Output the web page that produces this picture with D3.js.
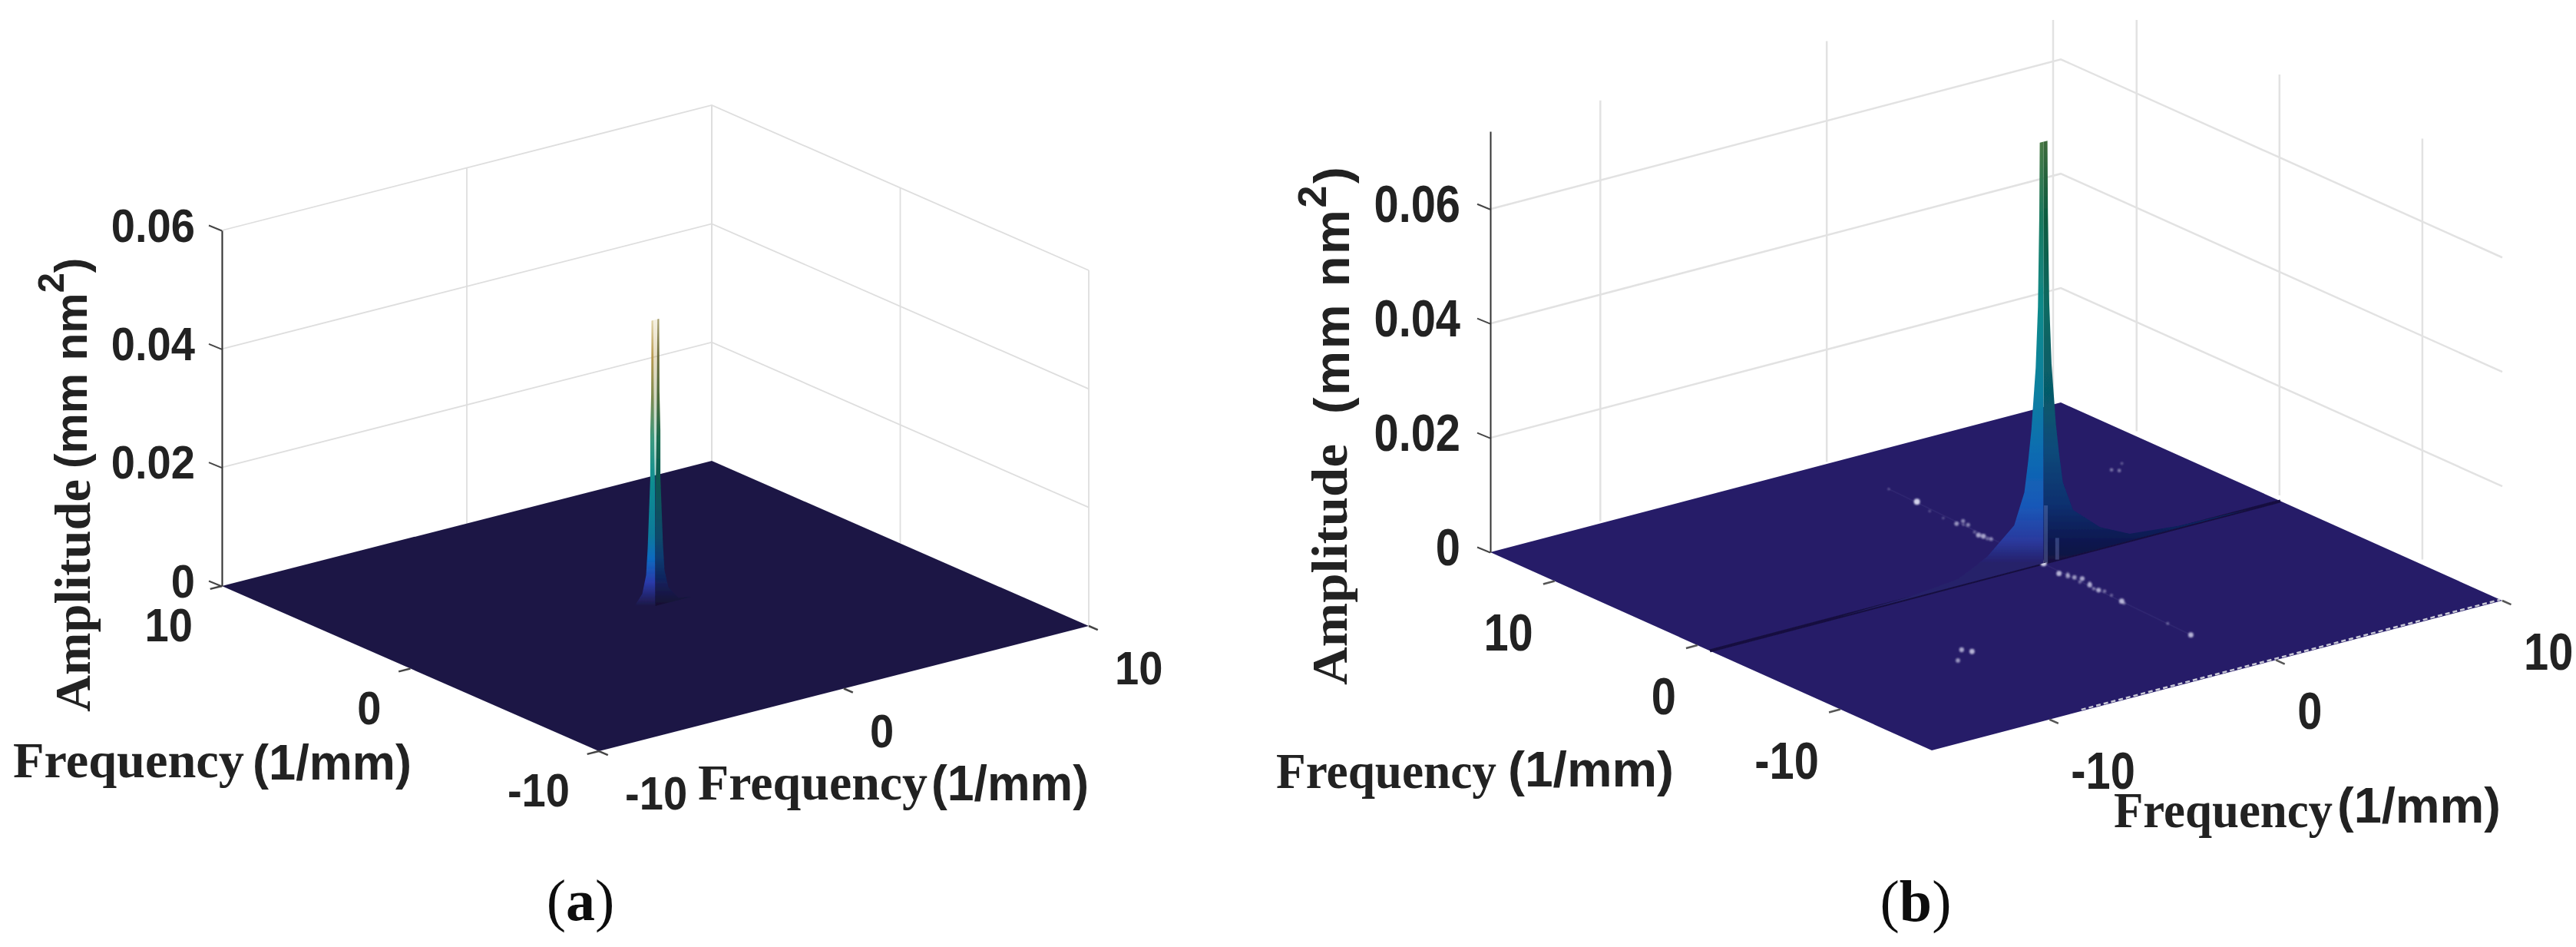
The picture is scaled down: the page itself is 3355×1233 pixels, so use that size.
<!DOCTYPE html>
<html>
<head>
<meta charset="utf-8">
<script src="https://cdnjs.cloudflare.com/ajax/libs/d3/7.8.5/d3.min.js"></script>
<style>
  html, body { margin: 0; padding: 0; background: #fff; }
  svg { display: block; }
</style>
</head>
<body>
<svg id="chart" width="3355" height="1233"></svg>
<script>
// axis ticks (frequency in 1/mm, amplitude in mm nm^2)
const freqTicks = [-10, 0, 10];
const zTicksA = [0, 0.02, 0.04, 0.06];
const zTicksB = [0, 0.02, 0.04, 0.06];
const zTickLabels = ["0", "0.02", "0.04", "0.06"];

// axis limits
const xDomainA = [-10, 10];
const yDomainA = [-10, 10];
const zDomainA = [0, 0.06];
const xDomainB = [-15.2, 10];
const yDomainB = [-16.4, 14.5];
const zDomainB = [0, 0.0736];

// peak profile of panel (a): amplitude vs half width along x, and the gap between the two tips
const peakAmpA = [0, 0.0004, 0.0026, 0.0056, 0.01, 0.0216, 0.0294, 0.0359, 0.0483];
const peakWidthA = [1.5, 0.94, 0.533, 0.376, 0.313, 0.207, 0.207, 0.17, 0.157];
const peakGapA = [0, 0, 0, 0, 0, 0.02, 0.05, 0.06, 0.085];

// peak profile of panel (b)
const peakAmpB = [0, 0.0003, 0.0012, 0.0037, 0.00796, 0.01326, 0.0186, 0.0239, 0.0345, 0.0451, 0.061, 0.0737];
const peakWidthB = [9, 6, 3.8, 2.5, 1.3, 0.85, 0.68, 0.54, 0.35, 0.25, 0.19, 0.17];
const peakGapB = [0, 0, 0, 0, 0, 0, 0, 0, 0, 0, 0, 0];
const peakPosB = [-0.46, -0.87];

// pale streaks at the foot of the peak in (b)
const streakX = [-0.36, 0.14];
const streakTop = [0.01, 0.0038];

// small side peaks scattered on the floor of (b)
const speckleX = [-0.17, -0.18, -0.43, -0.08, -0.18, -0.53, -0.47, -0.42, -0.46, -0.67, -0.58, -0.48, -0.34, -0.53, -0.6, -0.56, -0.64, -0.74, -0.81, -8.12, -7.94, -8.89, 7.23, 7.4, 7.92,
    -0.45, -0.62, -0.4, -0.65, -0.5, -0.7, -0.3, -0.45, -0.5, -0.45, -0.4];
const speckleY = [10.43, 8.44, 5.27, 5.37, 4.86, 3.58, 3.33, 2.87, -0.87, -2.28, -2.76, -3.06, -3.38, -4.21, -4.94, -5.78, -6.62, -10, -11.73, -7.27, -7.71, -8.23, 6.56, 6.29, 6.93,
    -2.54, -3.66, -4, -4.68, -5.2, -6.88, 5, 3.98, 3, 6.17, 7.2];
const speckleAmp = [0.2, 1, 0.6, 0.5, 0.5, 0.7, 0.7, 0.5, 1, 0.8, 0.6, 0.6, 0.7, 0.7, 0.7, 0.3, 0.8, 0.3, 0.8, 0.7, 0.8, 0.6, 0.4, 0.4, 0.25,
    0.35, 0.35, 0.35, 0.4, 0.4, 0.35, 0.25, 0.3, 0.35, 0.2, 0.2];

// colour of the surface by amplitude, left lit side and right dark side
const colorAmpA = [0, 0.004, 0.008, 0.012, 0.022, 0.028, 0.035, 0.042, 0.0483];
const colorLeftA = ["#1d1745", "#2a3aaa", "#0d6ac0", "#0a7a9a", "#129090", "#3a9a80", "#7a8a50", "#b89a50", "#e0d4aa"];
const colorRightA = ["#150f30", "#12205a", "#0a3a70", "#0a4a6a", "#0a5a50", "#1a6a50", "#4a6a3a", "#6a6a3a", "#a8a070"];
const colorAmpB = [0, 0.004, 0.01, 0.02, 0.03, 0.045, 0.06, 0.0737];
const colorLeftB = ["#26206a", "#2a3a9e", "#1858b8", "#0a6db0", "#0b80a0", "#0f8a8a", "#1a7a60", "#4a7a45"];
const colorRightB = ["#15103e", "#0a1850", "#082f6e", "#0a4a7a", "#065a68", "#0a6a62", "#0a5a40", "#3d6a3c"];

const sansBold = "'Liberation Sans', Arial, sans-serif";
const serifBold = "'Liberation Serif', 'Times New Roman', serif";
const svg = d3.select("#chart");
const defs = svg.append("defs");

// the reference is a soft scan, so everything gets a slight blur
defs.append("filter").attr("id", "soft")
    .attr("filterUnits", "userSpaceOnUse")
    .attr("x", 0).attr("y", 0).attr("width", 3355).attr("height", 1233)
    .append("feGaussianBlur").attr("stdDeviation", 0.7);
defs.append("filter").attr("id", "softer")
    .attr("filterUnits", "userSpaceOnUse")
    .attr("x", 0).attr("y", 0).attr("width", 3355).attr("height", 1233)
    .append("feGaussianBlur").attr("stdDeviation", 1.1);
const root = svg.append("g").attr("filter", "url(#soft)");

function addGradient(id, amps, colors, zScale) {
    const g = defs.append("linearGradient")
        .attr("id", id)
        .attr("gradientUnits", "userSpaceOnUse")
        .attr("x1", 0).attr("x2", 0)
        .attr("y1", zScale(amps[0]))
        .attr("y2", zScale(amps[amps.length - 1]));
    amps.forEach((a, i) => {
        g.append("stop")
            .attr("offset", (a - amps[0]) / (amps[amps.length - 1] - amps[0]))
            .attr("stop-color", colors[i]);
    });
}

function drawPanel(p) {
    const g = root.append("g");

    // parallel projection: every data axis adds its own screen offset
    const xToX = d3.scaleLinear().domain(p.xDomain).range([0, p.right[0] - p.front[0]]);
    const xToY = d3.scaleLinear().domain(p.xDomain).range([0, p.right[1] - p.front[1]]);
    const yToX = d3.scaleLinear().domain(p.yDomain).range([0, p.left[0] - p.front[0]]);
    const yToY = d3.scaleLinear().domain(p.yDomain).range([0, p.left[1] - p.front[1]]);
    const zOff = d3.scaleLinear().domain(p.zDomain).range([0, -p.zHeight]);
    function project(x, y, z) {
        return [p.front[0] + xToX(x) + yToX(y), p.front[1] + xToY(x) + yToY(y) + zOff(z || 0)];
    }
    const line = d3.line();
    const [xMin, xMax] = p.xDomain;
    const [yMin, yMax] = p.yDomain;
    const zMax = p.zDomain[1];

    // back walls
    defs.append("clipPath").attr("id", "clip" + p.id).append("rect")
        .attr("x", 0).attr("y", p.clipTop).attr("width", 3355).attr("height", 1233);
    const grid = g.append("g")
        .attr("clip-path", `url(#clip${p.id})`)
        .attr("fill", "none")
        .attr("stroke", p.gridColor)
        .attr("stroke-width", p.gridWidth);
    p.zTicks.filter(z => z > 0).forEach(z => {
        grid.append("path").attr("d", line([project(xMin, yMax, z), project(xMax, yMax, z), project(xMax, yMin, z)]));
    });
    freqTicks.forEach(t => {
        const a = project(t, yMax, 0), b = project(t, yMax, zMax);
        grid.append("path").attr("d", line([[a[0] + p.wallShift[0], a[1]], [b[0] + p.wallShift[0], b[1]]]));
        const c = project(xMax, t, 0), d = project(xMax, t, zMax);
        grid.append("path").attr("d", line([[c[0] + p.wallShift[1], c[1]], [d[0] + p.wallShift[1], d[1]]]));
    });

    // floor of the surface
    g.append("path")
        .attr("d", line([project(xMin, yMin), project(xMax, yMin), project(xMax, yMax), project(xMin, yMax)]) + "Z")
        .attr("fill", p.floor);

    // amplitude axis
    const zAxisScale = d3.scaleLinear().domain(p.zDomain).range([project(xMin, yMax)[1], project(xMin, yMax, zMax)[1]]);
    const zAxis = d3.axisLeft(zAxisScale)
        .tickValues(p.zTicks)
        .tickFormat((d, i) => zTickLabels[i])
        .tickSizeOuter(0);
    const zg = g.append("g")
        .attr("transform", `translate(${project(xMin, yMax)[0]},0)`)
        .call(zAxis);
    zg.select(".domain").attr("stroke", "#333").attr("stroke-width", 2);
    // ticks run along the y direction of the box, so they lean
    zg.selectAll(".tick line").attr("stroke", "#444").attr("stroke-width", 2).attr("x2", -17).attr("y2", -7);
    zg.selectAll(".tick text")
        .attr("x", 0)
        .attr("y", 0)
        .attr("dy", null)
        .attr("transform", `translate(${p.zLabelX},${p.zLabelY}) scale(${p.tickStretch},1)`)
        .attr("fill", "#222")
        .attr("font-family", sansBold)
        .attr("font-weight", "bold")
        .attr("font-size", p.tickFont);

    // frequency axes: small ticks and labels along the two front edges
    const ticks = g.append("g").attr("stroke", p.tickColor).attr("stroke-width", 2.5).attr("fill", "none");
    const labels = g.append("g")
        .attr("fill", "#222")
        .attr("font-family", sansBold)
        .attr("font-weight", "bold")
        .attr("font-size", p.tickFont);
    freqTicks.forEach(t => {
        const a = project(xMin, t), a2 = project(xMin - p.tickLen * (xMax - xMin), t);
        ticks.append("path").attr("d", line([a, a2]));
        labels.append("text")
            .attr("transform", `translate(${a[0] + p.yLabelOff[0]},${a[1] + p.yLabelOff[1]}) scale(${p.tickStretch},1)`)
            .attr("text-anchor", "end").text(t);
        const b = project(t, yMin), b2 = project(t, yMin - p.tickLen * (yMax - yMin));
        ticks.append("path").attr("d", line([b, b2]));
        labels.append("text")
            .attr("transform", `translate(${b[0] + p.xLabelOff[0]},${b[1] + p.xLabelOff[1]}) scale(${p.tickStretch},1)`)
            .text(t);
    });

    // floor details of (b)
    if (p.fringe) {
        g.append("path")
            .attr("d", line([project(-8.5, yMin + 0.15), project(xMax, yMin + 0.15)]))
            .attr("stroke", "#c9c9d6")
            .attr("stroke-width", 2.5)
            .attr("stroke-dasharray", "6 4")
            .attr("fill", "none");
        g.append("path")
            .attr("d", line([project(xMin, p.peak[1]), project(xMax, p.peak[1])]))
            .attr("stroke", "#17113f")
            .attr("stroke-width", 4)
            .attr("fill", "none");
        // faint trail the side peaks sit on
        g.append("path")
            .attr("d", line([project(speckleX[0], speckleY[0]), project(speckleX[18], speckleY[18])]))
            .attr("stroke", "#b8b8e8")
            .attr("stroke-width", 2)
            .attr("opacity", 0.06)
            .attr("fill", "none");
        const rScale = d3.scaleLinear().domain([0, 1]).range([1.2, 4]);
        const opScale = d3.scaleLinear().domain([0, 1]).range([0.15, 0.95]);
        g.append("g").attr("filter", "url(#softer)").selectAll("circle")
            .data(speckleX)
            .join("circle")
            .attr("cx", (d, i) => project(d, speckleY[i])[0])
            .attr("cy", (d, i) => project(d, speckleY[i])[1])
            .attr("r", (d, i) => rScale(speckleAmp[i]))
            .attr("fill", "#dcdcf2")
            .attr("opacity", (d, i) => opScale(speckleAmp[i]));
    }

    // the peak: two faces that meet along the ridge, plus the pale gap between the tips
    const [cx, cy] = p.peak;
    addGradient("left" + p.id, p.colorAmp, p.colorLeft, v => project(cx, cy, v)[1]);
    addGradient("right" + p.id, p.colorAmp, p.colorRight, v => project(cx, cy, v)[1]);
    const outerL = p.peakAmp.map((z, i) => project(cx - p.peakWidth[i], cy, z));
    const outerR = p.peakAmp.map((z, i) => project(cx + p.peakWidth[i], cy, z));
    const innerL = p.peakAmp.map((z, i) => project(cx - p.peakGap[i], cy, z));
    const innerR = p.peakAmp.map((z, i) => project(cx + p.peakGap[i], cy, z));
    g.append("path")
        .attr("d", line(innerL.concat(innerR.slice().reverse())) + "Z")
        .attr("fill", `url(#left${p.id})`)
        .attr("opacity", 0.35);
    g.append("path")
        .attr("d", line(outerL.concat(innerL.slice().reverse())) + "Z")
        .attr("fill", `url(#left${p.id})`);
    g.append("path")
        .attr("d", line(outerR.concat(innerR.slice().reverse())) + "Z")
        .attr("fill", `url(#right${p.id})`);

    if (p.fringe) {
        streakX.forEach((sx, i) => {
            g.append("path")
                .attr("d", line([project(sx, cy, 0), project(sx, cy, streakTop[i])]))
                .attr("stroke", "#8f9fe0")
                .attr("stroke-width", 5)
                .attr("opacity", 0.3);
        });
    }

    // axis titles and caption
    const titleText = (x, y, str, family, size, len) => g.append("text")
        .attr("x", x).attr("y", y)
        .attr("font-family", family).attr("font-weight", "bold").attr("font-size", size)
        .attr("fill", "#222")
        .attr("textLength", len).attr("lengthAdjust", "spacingAndGlyphs")
        .text(str);
    p.freqTitles.forEach(t => {
        titleText(t[0], t[1], "Frequency", serifBold, 65, t[2]);
        titleText(t[3], t[4], "(1/mm)", sansBold, 64, t[5]);
    });

    const amp = g.append("g").attr("transform", `translate(${p.ampTitle[0]},${p.ampTitle[1]}) rotate(-90)`);
    amp.append("text")
        .attr("font-family", serifBold).attr("font-weight", "bold").attr("font-size", p.ampTitle[2])
        .attr("fill", "#222")
        .attr("textLength", p.ampTitle[3]).attr("lengthAdjust", "spacingAndGlyphs")
        .text("Amplitude");
    const unit = g.append("g").attr("transform", `translate(${p.unitTitle[0]},${p.unitTitle[1]}) rotate(-90) scale(${p.unitTitle[4]},1)`);
    const unitText = unit.append("text")
        .attr("font-family", sansBold).attr("font-weight", "bold").attr("font-size", p.unitTitle[2])
        .attr("letter-spacing", p.unitTitle[3])
        .attr("fill", "#222");
    unitText.append("tspan").text("(mm nm");
    unitText.append("tspan").attr("dy", -30).attr("font-size", p.unitTitle[2] * 0.8).text("2");
    unitText.append("tspan").attr("dy", 30).text(")");

    const cap = g.append("text")
        .attr("x", p.caption[0]).attr("y", p.caption[1])
        .attr("text-anchor", "middle")
        .attr("font-family", serifBold).attr("font-size", 76).attr("fill", "#111");
    cap.append("tspan").text("(");
    cap.append("tspan").attr("font-weight", "bold").text(p.caption[2]);
    cap.append("tspan").text(")");
}

drawPanel({
    id: "A",
    front: [780, 978], right: [1418, 815], left: [289, 763],
    zHeight: 463,
    xDomain: xDomainA, yDomain: yDomainA, zDomain: zDomainA,
    zTicks: zTicksA,
    clipTop: 0, wallShift: [0, 0],
    gridColor: "#dedede", gridWidth: 1.8,
    floor: "#1d1745",
    tickColor: "#444", tickLen: 0.024, tickFont: 61, tickStretch: 0.92,
    zLabelX: -35, zLabelY: 14,
    yLabelOff: [-38, 72], xLabelOff: [34, 76],
    peak: [0, 0],
    peakAmp: peakAmpA, peakWidth: peakWidthA, peakGap: peakGapA,
    colorAmp: colorAmpA, colorLeft: colorLeftA, colorRight: colorRightA,
    freqTitles: [[17, 1012, 301, 329, 1015, 207], [909, 1041, 299, 1213, 1042, 205]],
    ampTitle: [117, 927, 66, 303],
    unitTitle: [113, 610, 60, 0, 0.98],
    caption: [756, 1198, "a"]
});

drawPanel({
    id: "B",
    front: [2516, 977], right: [3259, 782], left: [1941, 719],
    zHeight: 548,
    xDomain: xDomainB, yDomain: yDomainB, zDomain: zDomainB,
    zTicks: zTicksB,
    clipTop: 26, wallShift: [-10, 15],
    gridColor: "#e2e2e2", gridWidth: 2.5,
    floor: "#261c68",
    tickColor: "#555", tickLen: 0.02, tickFont: 68, tickStretch: 0.85,
    zLabelX: -39, zLabelY: 16,
    yLabelOff: [-28, 90], xLabelOff: [28, 90],
    peak: peakPosB,
    peakAmp: peakAmpB, peakWidth: peakWidthB, peakGap: peakGapB,
    colorAmp: colorAmpB, colorLeft: colorLeftB, colorRight: colorRightB,
    fringe: true,
    freqTitles: [[1662, 1026, 287, 1964, 1024, 216], [2753, 1077, 285, 3044, 1071, 213]],
    ampTitle: [1754, 892, 66, 314],
    unitTitle: [1757, 539, 65, 2.6, 1],
    caption: [2495, 1199, "b"]
});
</script>
</body>
</html>
